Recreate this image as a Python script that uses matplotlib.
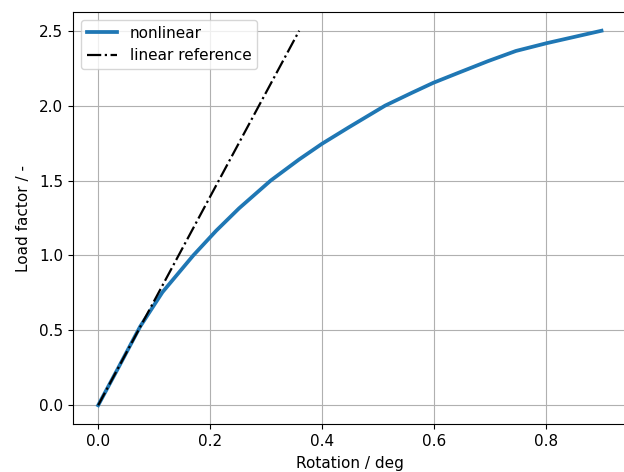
import matplotlib
matplotlib.use("Agg")
import matplotlib.pyplot as plt

plt.rcParams["font.size"] = 11

# load-rotation path of the nonlinear analysis
rotation = [0.0, 0.036, 0.075, 0.115, 0.170, 0.211, 0.252, 0.3085, 0.359,
            0.400, 0.448, 0.513, 0.5605, 0.599, 0.644, 0.697, 0.747, 0.802,
            0.900]
load_factor = [0.0, 0.25, 0.525, 0.755, 1.0, 1.165, 1.315, 1.500, 1.640,
               1.745, 1.855, 2.0, 2.085, 2.152, 2.219, 2.297, 2.365, 2.417,
               2.50]

# linear (first-order) reference
lin_rotation = [0.0, 0.3594]
lin_load = [0.0, 2.5]

fig = plt.figure(figsize=(6.24, 4.72), dpi=100)
ax = fig.add_axes([73 / 624, 48 / 472, 553.7 / 624, 412 / 472])

ax.plot(rotation, load_factor, color="tab:blue", lw=2.7, label="nonlinear")
ax.plot(lin_rotation, lin_load, "k-.", lw=1.6, label="linear reference")

ax.set_xlabel("Rotation / deg", labelpad=5)
ax.set_ylabel("Load factor / -", labelpad=6)
ax.grid(True)
ax.legend(loc="upper left")

fig.savefig("out.png", dpi=100)
